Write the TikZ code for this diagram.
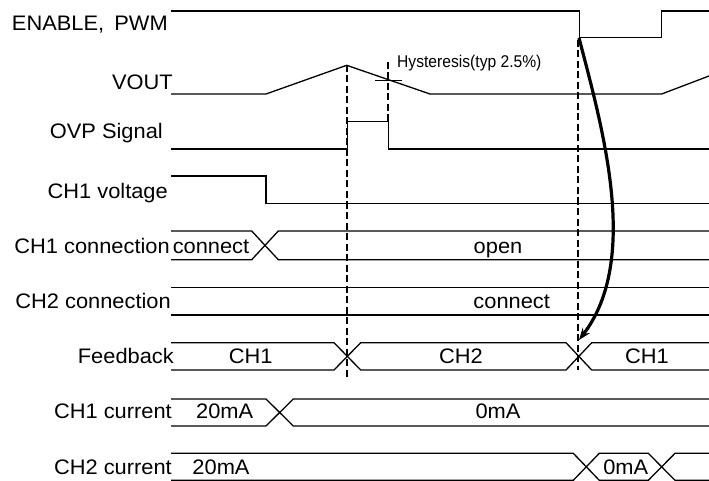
\documentclass[tikz,border=0pt]{standalone}
\usepackage{fontspec}
\setmainfont{Liberation Sans}
\usepackage{graphicx}
\usetikzlibrary{arrows.meta}
\newcommand\wtxt[1]{\scalebox{1.04}[1]{#1}}
\newcommand\ntxt[1]{\scalebox{0.92}[1]{#1}}
\begin{document}
\begin{tikzpicture}[x=1pt,y=-1pt,
  sig/.style={line width=1.3pt, line join=miter},
  guide/.style={line width=2.2pt, dash pattern=on 7pt off 3.5pt},
  lbl/.style={font=\fontsize{21}{24}\selectfont, inner sep=0pt, anchor=base east},
  val/.style={font=\fontsize{21}{24}\selectfont, inner sep=0pt, anchor=base},
  ]
\useasboundingbox (0,0) rectangle (709,481);
% labels
\node[lbl] (lEN) at (168,31) {\wtxt{ENABLE,\hspace{4pt} PWM}};
\node[lbl] (lVO) at (173,90) {\wtxt{VOUT}};
\node[lbl] (lOV) at (163,139) {\wtxt{OVP Signal}};
\node[lbl] (lV1) at (168,198) {\wtxt{CH1 voltage}};
\node[lbl] (lC1) at (170,253) {\wtxt{CH1 connection}};
\node[lbl] (lC2) at (171,308) {\wtxt{CH2 connection}};
\node[lbl] (lFB) at (174,363) {\wtxt{Feedback}};
\node[lbl] (lI1) at (172,418) {\wtxt{CH1 current}};
\node[lbl] (lI2) at (172,474) {\wtxt{CH2 current}};
% values
\node[val] (vc1) at (211,253) {\wtxt{connect}};
\node[val] (vop) at (498,253) {\wtxt{open}};
\node[val] (vc2) at (511.7,308) {\wtxt{connect}};
\node[val] (vf1) at (250.8,363) {\wtxt{CH1}};
\node[val] (vf2) at (461,363) {\wtxt{CH2}};
\node[val] (vf3) at (647,363) {\wtxt{CH1}};
\node[val] (va1) at (224.7,418) {\wtxt{20mA}};
\node[val] (va2) at (498,418) {\wtxt{0mA}};
\node[val] (vb1) at (221,474) {\wtxt{20mA}};
\node[val] (vb2) at (625.8,474) {\wtxt{0mA}};
\node[font=\fontsize{17}{20}\selectfont, inner sep=0pt, anchor=base west] (hy) at (397,68) {\ntxt{Hysteresis(typ 2.5\%)}};
% signals
\draw[sig] (171,11) -- (579.3,11) -- (579.3,37.7) -- (661.7,37.7) -- (661.7,11) -- (709,11);
\draw[sig] (171,94) -- (266,94) -- (346.7,65.3) -- (430,94) -- (661.7,94) -- (709,76);
\draw[sig] (375,80.5) -- (402,80.5);
\draw[sig] (171,149) -- (347.7,149) -- (347.7,121.7) -- (388.3,121.7) -- (388.3,149) -- (709,149);
\draw[sig] (171,176) -- (266,176) -- (266,203.3) -- (709,203.3);
\draw[sig] (171,231) -- (251.7,231) -- (278.3,259.7) -- (709,259.7);
\draw[sig] (171,259.7) -- (251.7,259.7) -- (278.3,231) -- (709,231);
\draw[sig] (171,287.3) -- (709,287.3);
\draw[sig] (171,315) -- (709,315);
\draw[sig] (171,342.7) -- (334,342.7) -- (360.7,370) -- (566,370) -- (591.7,342.7) -- (709,342.7);
\draw[sig] (171,370) -- (334,370) -- (360.7,342.7) -- (566,342.7) -- (591.7,370) -- (709,370);
\draw[sig] (171,399) -- (266,399) -- (293.3,426) -- (709,426);
\draw[sig] (171,426) -- (266,426) -- (293.3,399) -- (709,399);
\draw[sig] (171,453.3) -- (573.3,453.3) -- (599.3,480.3) -- (648.3,480.3) -- (675,453.3) -- (709,453.3);
\draw[sig] (171,480.3) -- (573.3,480.3) -- (599.3,453.3) -- (648.3,453.3) -- (675,480.3) -- (709,480.3);
% guides
\draw[guide] (346.7,65) -- (346.7,377);
\draw[guide] (388.3,62) -- (388.3,121.7);
\draw[guide] (578.3,40) -- (578.3,370);
% arrow
\coordinate (arS) at (579,38);
\coordinate (arE) at (579,340);
\draw[line width=3.2pt, -{Stealth[length=12pt,width=9pt]}] (arS) .. controls (603,130) and (640,260) .. (arE);
\end{tikzpicture}
\end{document}
